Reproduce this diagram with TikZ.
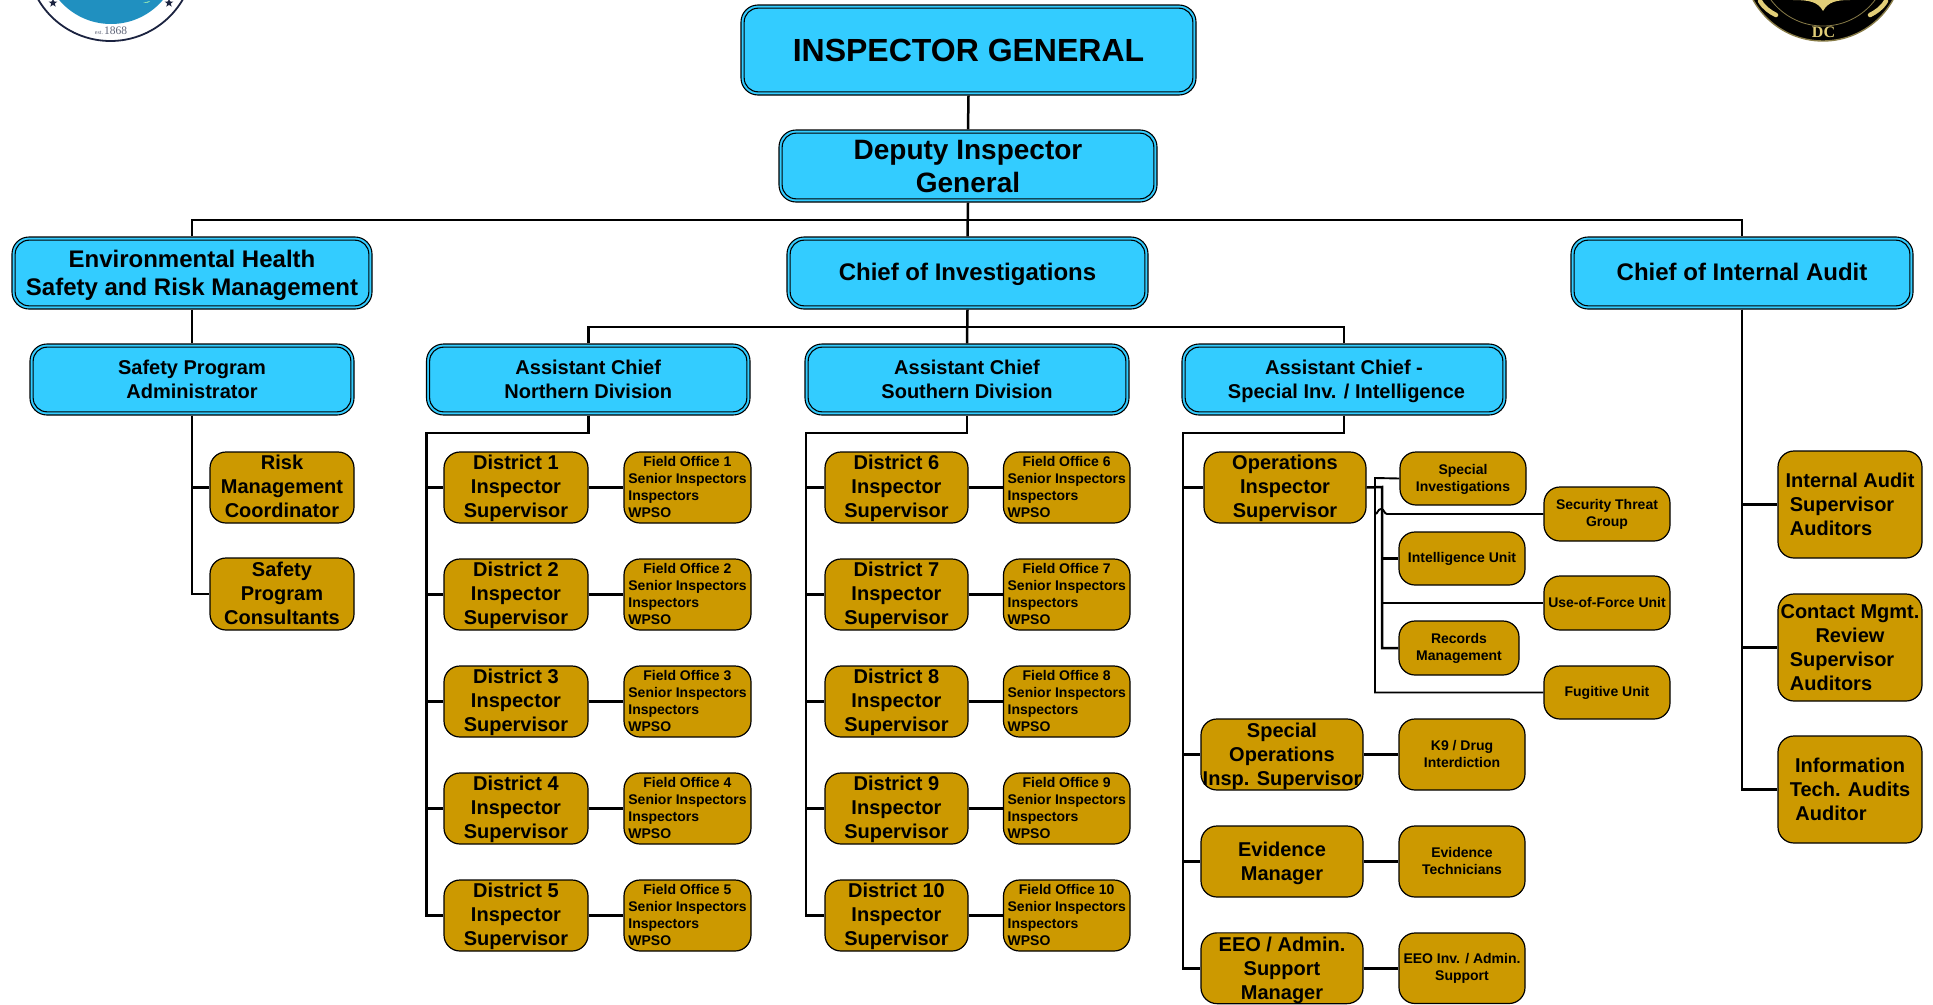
\documentclass[tikz,border=0pt]{standalone}
\usepackage{fontspec}
\setmainfont{Liberation Sans}
\newfontfamily\serifl{Liberation Serif}
\usetikzlibrary{shapes.geometric}
\definecolor{bluebox}{HTML}{33CCFF}
\definecolor{goldbox}{HTML}{CC9900}
\definecolor{sealblue}{HTML}{2090C0}
\definecolor{sealdark}{HTML}{1B2340}
\definecolor{badgegold}{HTML}{E2CE78}
\tikzset{
  blueshape/.style={inner sep=0pt,draw=black,fill=bluebox,line width=1.1pt,rounded corners=17pt,align=center},
  blueinner/.style={draw=black,line width=1.1pt,rounded corners=14pt},
  goldshape/.style={inner sep=0pt,draw=black,fill=goldbox,line width=1.2pt,rounded corners=16pt,align=center},
  fieldshape/.style={goldshape,align=left},
  conn/.style={draw=black,line width=2.5pt,line join=miter},
}
\newcommand{\lineprop}[1]{\rule[-.22em]{0pt}{\dimexpr #1em+.22em\relax}}
\newcommand{\bH}{.93}
\newcommand{\gH}{.82}
% name x1 y1 x2 y2 size leading text
\newcommand{\bluenode}[8]{%
  \node[blueshape,minimum width={(#4-#2)*1pt},minimum height={(#5-#3)*1pt},
        font=\bfseries\fontsize{#6}{#7}\selectfont] (#1) at ({(#2+#4)/2},{(#3+#5)/2}) {\lineprop{\bH}#8\lineprop{\bH}};
  \draw[blueinner] ([xshift=3.7pt,yshift=-3.7pt]#1.north west) rectangle ([xshift=-3.7pt,yshift=3.7pt]#1.south east);
}
\newcommand{\goldnode}[8]{%
  \node[goldshape,minimum width={(#4-#2)*1pt},minimum height={(#5-#3)*1pt},
        font=\bfseries\fontsize{#6}{#7}\selectfont] (#1) at ({(#2+#4)/2},{(#3+#5)/2}) {\lineprop{\gH}#8\lineprop{\gH}};
}
% name x1 y1 x2 y2 number
\newcommand{\fieldnode}[6]{%
  \node[fieldshape,minimum width={(#4-#2)*1pt},minimum height={(#5-#3)*1pt},
        font=\bfseries\fontsize{14}{16.8}\selectfont] (#1) at ({(#2+#4)/2},{(#3+#5)/2})
        {\lineprop{.87}\makebox[118pt][c]{Field Office #6}\\Senior Inspectors\\Inspectors\\WPSO\lineprop{.87}};
}
\begin{document}
\begin{tikzpicture}[x=1pt,y=-1pt]
\useasboundingbox (0,0) rectangle (1933,1004);
\begin{scope}
\clip (0,0) rectangle (1933,1004);
% left seal
\fill[white,draw=sealdark,line width=1.8pt] (110.5,-42.7) circle (83.7);
\fill[sealblue] (111,-44) circle (68);
\fill[white!70!green] (143,3) -- (150,1) -- (148,2.5) -- cycle;
\node[star,star points=5,star point ratio=2.4,fill=sealdark,inner sep=0pt,minimum size=9pt] (staL) at (53,3) {};
\node[star,star points=5,star point ratio=2.4,fill=sealdark,inner sep=0pt,minimum size=9pt] (staR) at (169,3) {};
\node[text=sealdark!70!white,inner sep=0pt,font=\serifl] (est) at (111,31) {\fontsize{6}{7}\selectfont est.\,\fontsize{11.5}{12}\selectfont 1868};
% right badge
\fill[black,draw=badgegold!60!black,line width=1.4pt] (1823,-39) circle (80);
\draw[badgegold!60!black,line width=.8pt] (1823,-39) circle (65);
\fill[badgegold] (1793,0) .. controls (1810,0) and (1818,2) .. (1823,11) .. controls (1828,2) and (1836,0) .. (1850,0) -- cycle;
\draw[badgegold,line width=4.5pt,line cap=round] (1760,1) .. controls (1764,8) and (1770,12) .. (1776,15);
\draw[badgegold,line width=4.5pt,line cap=round] (1886,1) .. controls (1882,8) and (1876,12) .. (1870,15);
\node[text=badgegold,inner sep=0pt,font=\serifl\bfseries\fontsize{16}{17}\selectfont] (dc) at (1823.5,32) {DC};
\end{scope}
% blue boxes
\bluenode{ig}{741}{5}{1196}{95}{32}{38}{INSPECTOR GENERAL}
\bluenode{dep}{779}{130}{1157}{202}{28}{32}{Deputy Inspector\\General}
\bluenode{env}{12}{237}{372}{309}{24}{28.5}{Environmental Health\\Safety and Risk Management}
\renewcommand{\bH}{.84}
\bluenode{chinv}{787}{237}{1148}{309}{24}{28}{Chief of Investigations}
\bluenode{chaud}{1571}{237}{1913}{309}{24}{28}{Chief of Internal Audit}
\renewcommand{\bH}{.94}
\bluenode{spa}{30}{344}{354}{415}{20}{24}{Safety Program\\Administrator}
\bluenode{acn}{426.5}{344}{750}{415}{20}{24}{Assistant Chief\\Northern Division}
\bluenode{acs}{805}{344}{1129}{415}{20}{24}{Assistant Chief\\Southern Division}
\bluenode{acx}{1182}{344}{1506}{415}{20}{24}{Assistant Chief -\\\kern5pt Special Inv. / Intelligence}
% safety side
\goldnode{risk}{210}{452}{354}{523}{20}{24}{Risk\\Management\\Coordinator}
\goldnode{cons}{210}{558}{354}{630}{20}{24}{Safety\\Program\\Consultants}
% districts
\goldnode{d1}{444}{452}{588}{523}{20}{24}{District 1\\Inspector\\Supervisor}
\goldnode{d2}{444}{559}{588}{630}{20}{24}{District 2\\Inspector\\Supervisor}
\goldnode{d3}{444}{666}{588}{737}{20}{24}{District 3\\Inspector\\Supervisor}
\goldnode{d4}{444}{773}{588}{844}{20}{24}{District 4\\Inspector\\Supervisor}
\goldnode{d5}{444}{880}{588}{951}{20}{24}{District 5\\Inspector\\Supervisor}
\fieldnode{f1}{624}{452}{751}{523}{1}
\fieldnode{f2}{624}{559}{751}{630}{2}
\fieldnode{f3}{624}{666}{751}{737}{3}
\fieldnode{f4}{624}{773}{751}{844}{4}
\fieldnode{f5}{624}{880}{751}{951}{5}
\goldnode{d6}{825}{452}{968}{523}{20}{24}{District 6\\Inspector\\Supervisor}
\goldnode{d7}{825}{559}{968}{630}{20}{24}{District 7\\Inspector\\Supervisor}
\goldnode{d8}{825}{666}{968}{737}{20}{24}{District 8\\Inspector\\Supervisor}
\goldnode{d9}{825}{773}{968}{844}{20}{24}{District 9\\Inspector\\Supervisor}
\goldnode{d10}{825}{880}{968}{951}{20}{24}{District 10\\Inspector\\Supervisor}
\fieldnode{f6}{1003.5}{452}{1130}{523}{6}
\fieldnode{f7}{1003.5}{559}{1130}{630}{7}
\fieldnode{f8}{1003.5}{666}{1130}{737}{8}
\fieldnode{f9}{1003.5}{773}{1130}{844}{9}
\fieldnode{f10}{1003.5}{880}{1130}{951}{10}
% special inv.
\goldnode{ops}{1204}{452}{1366}{523}{20}{24}{Operations\\Inspector\\Supervisor}
\goldnode{sinv}{1400}{452}{1526}{505}{14}{17}{Special\\Investigations}
\goldnode{stg}{1544}{487}{1670}{541}{14}{17}{Security Threat\\Group}
\goldnode{intel}{1399}{532}{1525}{585}{14}{17}{Intelligence Unit}
\goldnode{uof}{1544}{576}{1670}{630}{14}{17}{Use-of-Force Unit}
\goldnode{rec}{1399}{621}{1519}{675}{14}{17}{Records\\Management}
\goldnode{fug}{1544}{666}{1670}{719}{14}{17}{Fugitive Unit}
\goldnode{k9}{1399}{719}{1525}{790}{14}{17}{K9 / Drug\\Interdiction}
\goldnode{evt}{1399}{826}{1525}{897}{14}{17}{Evidence\\Technicians}
\goldnode{eeoi}{1399}{933}{1525}{1003.5}{14}{17}{EEO Inv. / Admin.\\Support}
\renewcommand{\gH}{.88}
\goldnode{sops}{1201}{719}{1363}{790}{20}{24}{Special\\Operations\\Insp. Supervisor}
\renewcommand{\gH}{.92}
\goldnode{eeo}{1201}{933}{1363}{1003.5}{20}{24}{EEO / Admin.\\Support\\Manager}
\renewcommand{\gH}{.96}
\goldnode{evm}{1201}{826}{1363}{897}{20}{24}{Evidence\\Manager}
% audit
\goldnode{ia}{1778}{451}{1922}{558}{20}{24}{Internal Audit\\Supervisor\kern16pt\\Auditors\kern38pt}
\goldnode{cm}{1778}{594}{1922}{701}{20}{24}{Contact Mgmt.\\Review\\Supervisor\kern16pt\\Auditors\kern38pt}
\goldnode{it}{1778}{736}{1922}{843}{20}{24}{Information\\Tech. Audits\\Auditor\kern38pt}
% junctions
\coordinate (topbus) at (968,220);
\coordinate (invbus) at (967,327);
\coordinate (nb) at (426.5,433);
\coordinate (sb) at (806,433);
\coordinate (xb) at (1183,433);
\coordinate (ji) at (1382,487);
\coordinate (jo) at (1375,478);
\coordinate (h1) at (1387,514);
\coordinate (h2) at (1381,509);
\coordinate (h3) at (1375,514);
% connectors
\draw[conn] (ig.south) -- (dep.north);
\draw[conn] (dep.south) -- (chinv.north);
\draw[conn] (env.north) |- (topbus) -| (chaud.north);
\draw[conn] (env.south) -- (spa.north);
\draw[conn] (spa.south) |- (cons.west);
\draw[conn] (spa.south) |- (risk.west);
\draw[conn] (chinv.south) -- (acs.north);
\draw[conn] (acn.north) |- (invbus) -| (acx.north);
\draw[conn] (acn.south) |- (nb) |- (d5.west);
\draw[conn] (acs.south) |- (sb) |- (d10.west);
\draw[conn] (acx.south) |- (xb) |- (eeo.west);
\foreach \n in {d1,d2,d3,d4} \draw[conn] (nb) |- (\n.west);
\foreach \n in {d6,d7,d8,d9} \draw[conn] (sb) |- (\n.west);
\foreach \n in {ops,sops,evm} \draw[conn] (xb) |- (\n.west);
\foreach \i in {1,...,10} \draw[conn] (d\i.east) -- (f\i.west);
\draw[conn] (sops.east) -- (k9.west);
\draw[conn] (evm.east) -- (evt.west);
\draw[conn] (eeo.east) -- (eeoi.west);
\draw[conn] (ops.east) -- (ji) |- (rec.west);
\draw[conn] (ji) |- (intel.west);
\draw[conn] (ji) |- (uof.west);
\draw[line width=1.9pt,draw=black] (sinv.west) -- (jo) |- (fug.west);
\draw[line width=1.9pt,draw=black] (stg.west) -- (h1) .. controls (1384,514) and (1384.5,509) .. (h2) .. controls (1377.5,509) and (1378,514) .. (h3);
\draw[conn] (chaud.south) |- (it.west);
\draw[conn] (chaud.south) |- (ia.west);
\draw[conn] (chaud.south) |- (cm.west);
\end{tikzpicture}
\end{document}
